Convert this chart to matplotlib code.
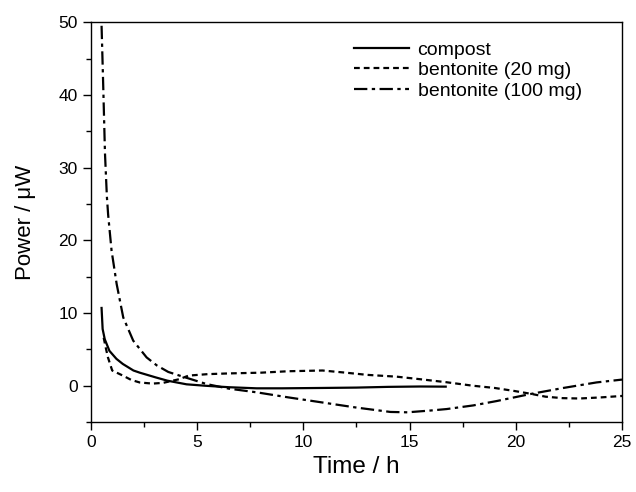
import matplotlib
matplotlib.use("Agg")
import matplotlib.pyplot as plt
from matplotlib.ticker import MultipleLocator

plt.rcParams.update({
    "font.family": "sans-serif",
    "font.sans-serif": ["Liberation Sans", "DejaVu Sans"]})

# compost
t_compost = [0.5, 0.55, 0.65, 0.87, 1.2, 1.5, 2.0, 2.3, 3.05, 3.6, 4.5, 5.4, 6.5, 7.8,
             9.0, 10.9, 12.5, 14.0, 15.5, 16.7]
p_compost = [10.7, 7.8, 6.4, 4.8, 3.7, 3.0, 2.1, 1.8, 1.15, 0.7, 0.2, 0.0, -0.2, -0.35,
             -0.35, -0.3, -0.25, -0.15, -0.1, -0.12]

# bentonite (20 mg)
t_b20 = [0.6, 0.7, 0.8, 1.0, 1.5, 1.9, 2.3, 2.9, 3.4, 4.15, 4.6, 5.5, 6.5, 8.0, 9.3,
         10.9, 12.0, 13.0, 14.4, 15.5, 16.7, 18.0, 19.0, 19.9, 20.7, 21.4, 22.2, 23.0,
         24.0, 25.0]
p_b20 = [6.6, 5.2, 3.9, 2.1, 1.4, 0.8, 0.45, 0.3, 0.4, 0.9, 1.4, 1.6, 1.7, 1.8, 2.0,
         2.1, 1.8, 1.5, 1.25, 0.9, 0.5, 0.0, -0.3, -0.7, -1.1, -1.5, -1.7, -1.75,
         -1.6, -1.4]

# bentonite (100 mg)
t_b100 = [0.50, 0.58, 0.66, 0.75, 0.81, 0.97, 1.21, 1.52, 1.99, 2.62, 3.1, 3.64, 4.19,
          5.45, 6.5, 7.8, 9.3, 10.9, 12.5, 14.1, 14.9, 16.0, 16.75, 18.0, 19.1, 20.66,
          22.24, 23.8, 25.0]
p_b100 = [49.5, 41.0, 32.0, 26.0, 23.5, 18.6, 14.0, 9.4, 6.2, 3.9, 2.8, 1.9, 1.38,
          0.23, -0.4, -0.9, -1.6, -2.3, -3.0, -3.6, -3.65, -3.4, -3.2, -2.7, -2.1,
          -1.15, -0.3, 0.46, 0.85]

fig = plt.figure(figsize=(6.36, 4.92), dpi=100)
ax = fig.add_axes([0.143, 0.142, 0.835, 0.813])

ax.plot(t_compost, p_compost, color='black', lw=1.6, ls='-', label='compost')
ax.plot(t_b20, p_b20, color='black', lw=1.6, ls=(0, (2.6, 1.8)), label='bentonite (20 mg)')
ax.plot(t_b100, p_b100, color='black', lw=1.6, ls=(0, (6, 2, 1.5, 2)),
        label='bentonite (100 mg)')

ax.set_xlim(0, 25)
ax.set_ylim(-5, 50)
ax.xaxis.set_major_locator(MultipleLocator(5))
ax.xaxis.set_minor_locator(MultipleLocator(2.5))
ax.yaxis.set_major_locator(MultipleLocator(10))
ax.yaxis.set_minor_locator(MultipleLocator(5))
ax.tick_params(which='both', direction='out', top=False, right=False, labelsize=12.5)
ax.tick_params(which='major', length=6, width=1)
ax.tick_params(which='minor', length=3.5, width=1)
for s in ax.spines.values():
    s.set_linewidth(1.0)

ax.set_xlabel('Time / h', fontsize=17.5)
ax.set_ylabel('Power / \u03bcW', fontsize=16)
ax.yaxis.set_label_coords(-0.104, 0.5)

ax.legend(loc='upper left', bbox_to_anchor=(0.496, 0.953), frameon=False, fontsize=14,
          handlelength=2.8, handletextpad=0.45, labelspacing=0.15,
          borderpad=0, borderaxespad=0)

fig.savefig('out.png', dpi=100)
